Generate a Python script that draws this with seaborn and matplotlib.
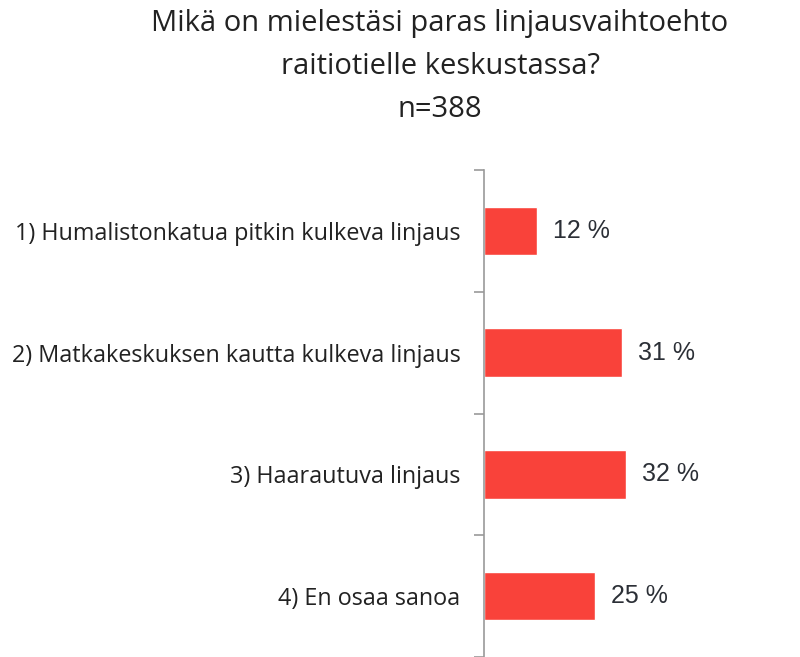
import matplotlib
matplotlib.use("Agg")
import matplotlib.pyplot as plt
import seaborn as sns
import pandas as pd
from matplotlib.ticker import FixedLocator

# Data
categories = [
    "1) Humalistonkatua pitkin kulkeva linjaus",
    "2) Matkakeskuksen kautta kulkeva linjaus",
    "3) Haarautuva linjaus",
    "4) En osaa sanoa",
]
shares = [12, 31, 32, 25]
title_lines = ["Mikä on mielestäsi paras linjausvaihtoehto", "raitiotielle keskustassa?", "n=388"]

df = pd.DataFrame({"Vaihtoehto": categories, "Osuus": shares})

sns.set_style("white")
plt.rcParams["font.family"] = ["Open Sans", "DejaVu Sans"]

fig = plt.figure(figsize=(8, 6.57), dpi=100)
ax = fig.add_axes([0.605, 0.0, 0.395, 0.741])

sns.barplot(data=df, x="Osuus", y="Vaihtoehto", color="#F9423A", width=0.4,
            saturation=1, ax=ax)

ax.set_xlim(0, 71)
ax.set_ylim(3.5, -0.5)
ax.set_xlabel("")
ax.set_ylabel("")
ax.set_xticks([])

# tick marks between categories, labels at category centres
ax.yaxis.set_minor_locator(FixedLocator([-0.5, 0.5, 1.5, 2.5, 3.5]))
ax.tick_params(axis="y", which="major", length=0, pad=17, labelsize=16.8, labelcolor="#222222")
ax.tick_params(axis="y", which="minor", length=7, width=1.2, color="#999999", left=True)

for side in ["top", "right", "bottom"]:
    ax.spines[side].set_visible(False)
ax.spines["left"].set_color("#999999")
ax.spines["left"].set_linewidth(1.2)

for i, v in enumerate(shares):
    ax.text(v + 3.6, i, f"{v} %", va="center", ha="left", fontsize=18,
            family="Liberation Sans", color="#2b2f36")

fig.text(0.55, 0.987, "\n".join(title_lines), ha="center", va="top",
         fontsize=21, color="#222222", linespacing=1.64)

fig.savefig("out.png", dpi=100)
